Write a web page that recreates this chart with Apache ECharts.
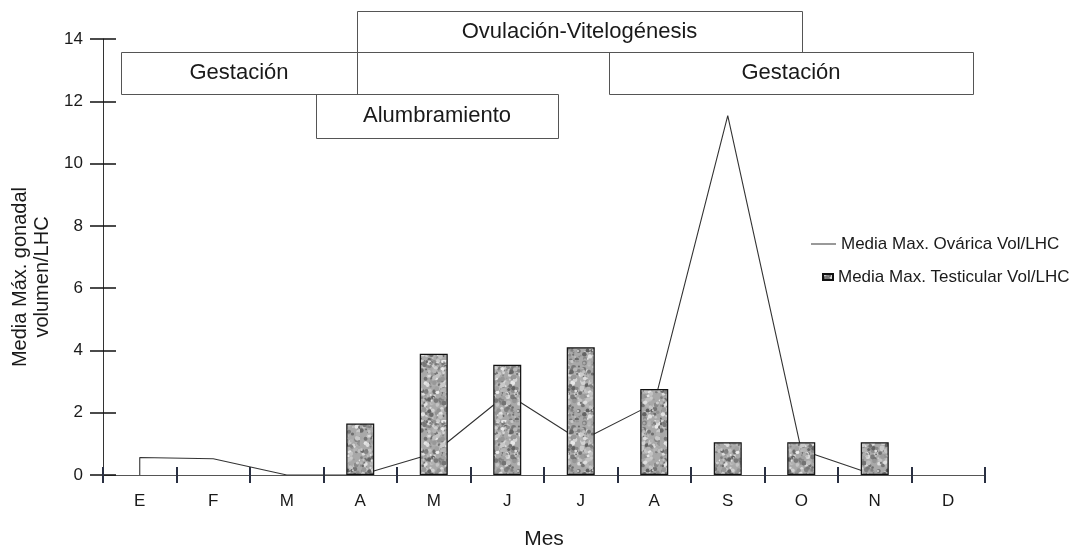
<!DOCTYPE html>
<html>
<head>
<meta charset="utf-8">
<title>Media Max. gonadal</title>
<script src="https://cdn.jsdelivr.net/npm/echarts@6/dist/echarts.min.js"></script>
<style>
  html, body { margin: 0; padding: 0; background: #fff; }
  #chart { width: 1073px; height: 550px; }
</style>
</head>
<body>
<div id="chart"></div>
<script>
// months (Enero..Diciembre)
const months = ['E', 'F', 'M', 'A', 'M', 'J', 'J', 'A', 'S', 'O', 'N', 'D'];
// bars: testicular volume / LHC
const testicular = [null, null, null, 1.65, 3.89, 3.54, 4.1, 2.76, 1.05, 1.05, 1.05, null];
// line: ovarian volume / LHC (ends at N)
const ovarica = [0.56, 0.52, 0, 0, 0.7, 2.6, 1.1, 2.3, 11.54, 0.8, 0];
const yMax = 14;
const yStep = 2;

const lineName = 'Media Max. Ovárica Vol/LHC';
const barName = 'Media Max. Testicular Vol/LHC';

// mottled grey fill like the original bars (deterministic hash, style only)
function granite() {
  const size = 60;
  const c = document.createElement('canvas');
  c.width = size; c.height = size;
  const ctx = c.getContext('2d');
  ctx.fillStyle = '#a9a9a9';
  ctx.fillRect(0, 0, size, size);
  const hash = n => Math.abs(Math.sin(n * 12.9898 + 4.1414) * 43758.5453) % 1;
  for (let i = 0; i < 420; i++) {
    const x = hash(i * 3 + 1) * size;
    const y = hash(i * 3 + 2) * size;
    const r = 0.8 + hash(i * 3 + 3) * 1.7;
    const g = Math.round(95 + hash(i * 7 + 5) * 140);
    ctx.fillStyle = 'rgb(' + g + ',' + g + ',' + g + ')';
    ctx.beginPath();
    ctx.arc(x, y, r, 0, Math.PI * 2);
    ctx.fill();
  }
  return c;
}

// line starts with a vertical rise at E
const linePoints = [[0, 0]].concat(ovarica.map((v, i) => [i, v]));

const chart = echarts.init(document.getElementById('chart'));

const boxes = [
  { text: 'Ovulación-Vitelogénesis', x: 357, y: 11, w: 445, h: 41 },
  { text: 'Gestación', x: 121, y: 52, w: 236, h: 42 },
  { text: 'Gestación', x: 609, y: 52, w: 364, h: 42 },
  { text: 'Alumbramiento', x: 316, y: 94, w: 242, h: 44 }
];

const graphics = [];
boxes.forEach(b => {
  graphics.push({
    type: 'rect',
    shape: { x: b.x + 0.5, y: b.y + 0.5, width: b.w, height: b.h },
    style: { fill: 'none', stroke: '#555', lineWidth: 1 },
    z: 10
  });
  graphics.push({
    type: 'text',
    x: b.x + b.w / 2, y: b.y + b.h / 2,
    style: {
      text: b.text, fill: '#1a1a1a', font: '22px "Liberation Sans", Arial, sans-serif',
      textAlign: 'center', textVerticalAlign: 'middle'
    },
    z: 11
  });
});

const font = '"Liberation Sans", Arial, sans-serif';

chart.setOption({
  animation: false,
  textStyle: { fontFamily: font },
  grid: { left: 103, right: 88, top: 39, bottom: 75, outerBoundsMode: 'none', containLabel: false },
  legend: [
    {
      data: [{ name: lineName, icon: 'rect' }],
      left: 806, top: 229,
      itemWidth: 25, itemHeight: 1,
      textStyle: { fontSize: 17, color: '#1a1a1a', lineHeight: 20 }
    },
    {
      data: [{ name: barName, icon: 'rect' }],
      left: 817, top: 262,
      itemWidth: 10, itemHeight: 6,
      textStyle: { fontSize: 17, color: '#1a1a1a', lineHeight: 20 }
    }
  ],
  xAxis: [
    {
      type: 'category', data: months, position: 'bottom',
      name: 'Mes', nameLocation: 'middle', nameGap: 54,
      nameTextStyle: { fontSize: 21, color: '#1a1a1a' },
      axisLine: { onZero: false, lineStyle: { color: '#555', width: 1 } },
      axisTick: { show: true, length: 8, lineStyle: { color: '#2a3042', width: 2 } },
      axisLabel: { fontSize: 17, color: '#1a1a1a', margin: 18 },
      splitLine: { show: false }
    },
    {
      type: 'category', data: months, position: 'bottom',
      axisLine: { show: false, onZero: false },
      axisTick: { show: true, inside: true, length: 8, lineStyle: { color: '#2a3042', width: 2 } },
      axisLabel: { show: false },
      splitLine: { show: false }
    },
    { type: 'value', min: -0.5, max: 11.5, show: false }
  ],
  yAxis: [
    {
      type: 'value', min: 0, max: yMax, interval: yStep, position: 'left',
      name: 'Media Máx. gonadal\nvolumen/LHC', nameLocation: 'middle', nameGap: 50,
      nameTextStyle: { fontSize: 20, color: '#1a1a1a', lineHeight: 22, padding: [0, 40, 0, 0] },
      axisLine: { show: true, onZero: false, lineStyle: { color: '#333', width: 1 } },
      axisTick: { show: true, length: 13, lineStyle: { color: '#111', width: 1.5 } },
      axisLabel: { fontSize: 17, color: '#1a1a1a', margin: 20 },
      splitLine: { show: false }
    },
    {
      type: 'value', min: 0, max: yMax, interval: yStep, position: 'left',
      axisLine: { show: false, onZero: false },
      axisTick: { show: true, inside: true, length: 13, lineStyle: { color: '#111', width: 1.5 } },
      axisLabel: { show: false },
      splitLine: { show: false }
    }
  ],
  series: [
    {
      name: lineName, type: 'line',
      xAxisIndex: 2, yAxisIndex: 0,
      data: linePoints,
      showSymbol: false, symbol: 'none',
      lineStyle: { color: '#333', width: 1.1 },
      itemStyle: { color: '#333' },
      z: 2
    },
    {
      name: barName, type: 'bar',
      xAxisIndex: 0, yAxisIndex: 0,
      data: testicular,
      barWidth: 28,
      itemStyle: {
        color: { image: granite(), repeat: 'repeat' },
        borderColor: '#111', borderWidth: 1.2
      },
      z: 3
    }
  ],
  graphic: graphics
});
</script>
</body>
</html>
